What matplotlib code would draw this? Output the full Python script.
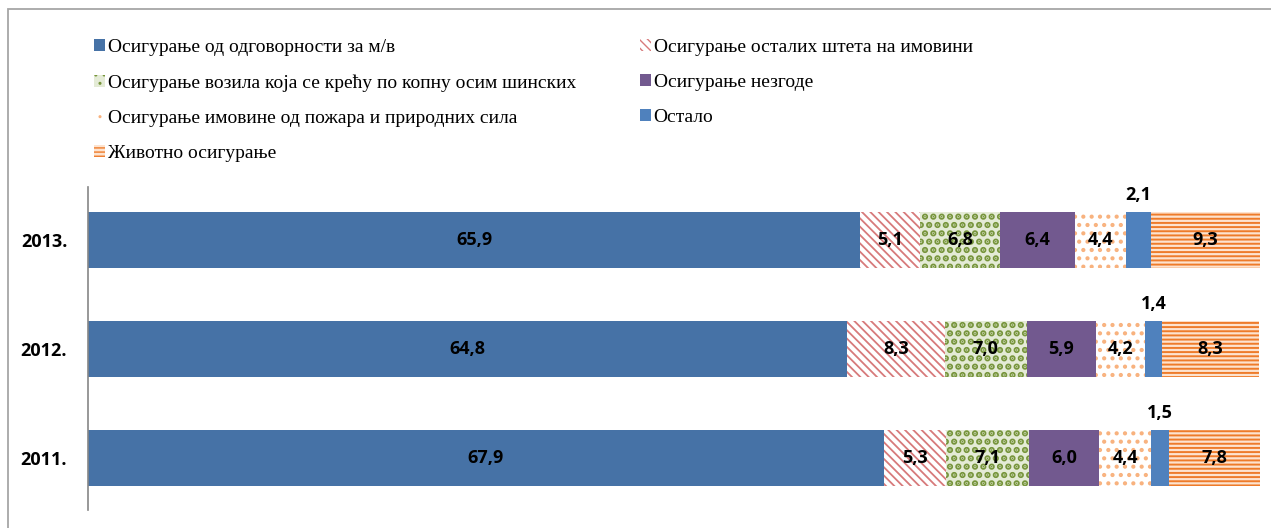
import matplotlib
matplotlib.use("Agg")
import matplotlib.pyplot as plt
from matplotlib.patches import Rectangle

years = ["2011.", "2012.", "2013."]
series_names = [
    "Осигурање од одговорности за м/в",
    "Осигурање осталих штета на имовини",
    "Осигурање возила која се крећу по копну осим шинских",
    "Осигурање незгоде",
    "Осигурање имовине од пожара и природних сила",
    "Остало",
    "Животно осигурање",
]
# values per series, order: 2011, 2012, 2013
s_mtpl = [67.9, 64.8, 65.9]
s_other_property = [5.3, 8.3, 5.1]
s_vehicles = [7.1, 7.0, 6.8]
s_accident = [6.0, 5.9, 6.4]
s_fire = [4.4, 4.2, 4.4]
s_rest = [1.5, 1.4, 2.1]
s_life = [7.8, 8.3, 9.3]
series_values = [s_mtpl, s_other_property, s_vehicles, s_accident, s_fire, s_rest, s_life]

styles = [
    dict(face="#4672A6", edge=None, hatch=None, hlw=1.0),
    dict(face="white", edge="#D77A7B", hatch="\\\\\\\\", hlw=1.3),
    dict(face="#E4EBD6", edge="#77953C", hatch="..", hlw=3.2),
    dict(face="#72598F", edge=None, hatch=None, hlw=1.0),
    dict(face="white", edge="#F8B27E", hatch="..", hlw=1.8),
    dict(face="#4F81BD", edge=None, hatch=None, hlw=1.0),
    dict(face="#FDE3CF", edge="#EE7B2A", hatch="----", hlw=1.4),
]

W, H = 1271, 528
fig = plt.figure(figsize=(W / 100, H / 100), dpi=100)
fig.patch.set_facecolor("white")

# chart border (extends past right & bottom)
fig.patches.append(Rectangle((8 / W, -0.05), 1.2, 1 - 9 / H + 0.05,
                             transform=fig.transFigure, fill=False,
                             edgecolor="#A6A6A6", linewidth=1.3))

ax = fig.add_axes([88 / W, 1 - 510 / H, (1260 - 88) / W, (510 - 187) / H])
ax.set_xlim(0, 100)
ax.set_ylim(-0.477, 2.486)

LBL = dict(fontsize=13, fontweight="bold", family="Open Sans", color="black")

handles = []
ypos = list(range(len(years)))
left = [0.0] * len(years)
for name, vals, st in zip(series_names, series_values, styles):
    with plt.rc_context({"hatch.linewidth": st["hlw"]}):
        kw = dict(height=0.514, left=left, color=st["face"], linewidth=0, label=name)
        if st["hatch"]:
            kw["hatch"] = st["hatch"]
            kw["edgecolor"] = st["edge"]
        bars = ax.barh(ypos, vals, **kw)
    handles.append(bars)
    for i, (b, v) in enumerate(zip(bars, vals)):
        cx = left[i] + v / 2
        yy = ypos[i] + 0.41 if name == "Остало" else ypos[i]
        ax.text(cx, yy, f"{v:.1f}".replace(".", ","), ha="center", va="center", **LBL)
    left = [l + v for l, v in zip(left, vals)]

ax.set_yticks(ypos)
ax.set_yticklabels(years, fontsize=13, fontweight="bold", family="Open Sans")
ax.tick_params(axis="y", length=0, pad=15)
ax.set_xticks([])
for s in ["top", "right", "bottom"]:
    ax.spines[s].set_visible(False)
ax.spines["left"].set_color("#868686")
ax.spines["left"].set_linewidth(1.2)

order = [0, 2, 4, 6, 1, 3, 5]
leg = fig.legend([handles[i] for i in order], [series_names[i] for i in order],
                 ncol=2, loc="upper left", bbox_to_anchor=(94 / W, 1 - 39 / H),
                 frameon=False, prop={"family": "Liberation Serif", "size": 14},
                 handlelength=0.55, handleheight=0.55, handletextpad=0.15,
                 labelspacing=0.93, columnspacing=3.3, borderaxespad=0, borderpad=0)

fig.savefig("out.png", dpi=100, facecolor="white")
